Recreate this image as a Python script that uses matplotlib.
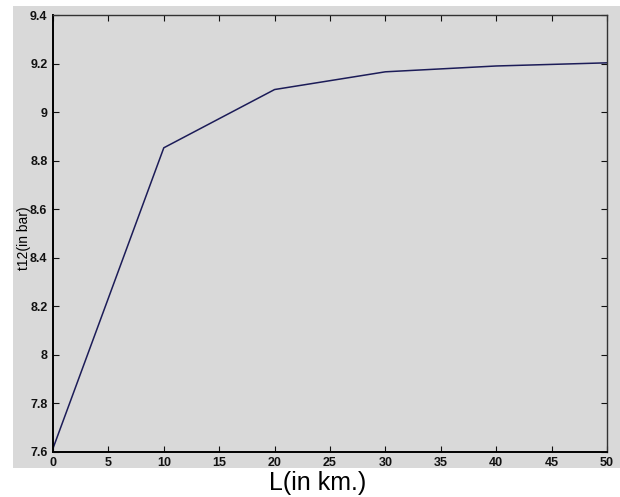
import matplotlib.pyplot as plt
from matplotlib.patches import Rectangle

# distance along the line and the resulting t12 value
L_km = [0, 10, 20, 30, 40, 50]
t12_bar = [7.615, 8.853, 9.093, 9.166, 9.19, 9.203]

x_ticks = [0, 5, 10, 15, 20, 25, 30, 35, 40, 45, 50]
y_ticks = [7.6, 7.8, 8, 8.2, 8.4, 8.6, 8.8, 9, 9.2, 9.4]
y_tick_labels = ["7.6", "7.8", "8", "8.2", "8.4", "8.6", "8.8", "9", "9.2", "9.4"]

plt.rcParams["font.family"] = ["Liberation Sans", "DejaVu Sans"]

fig = plt.figure(figsize=(6.2, 4.97), dpi=100)
fig.patch.set_facecolor("white")
# grey panel behind the axes, like a MATLAB figure window
fig.patches.append(
    Rectangle((13 / 620, 29 / 497), 607 / 620, 462 / 497,
              transform=fig.transFigure, facecolor="#d9d9d9",
              edgecolor="none", zorder=-10)
)

ax = fig.add_axes([53 / 620, 45 / 497, 554 / 620, 437 / 497])
ax.set_zorder(5)
ax.set_facecolor("#d9d9d9")
ax.plot(L_km, t12_bar, color="#1c1c58", linewidth=1.1)

ax.set_xlim(0, 50)
ax.set_ylim(7.6, 9.4)
ax.set_xticks(x_ticks)
ax.set_yticks(y_ticks)
ax.set_yticklabels(y_tick_labels)
ax.tick_params(direction="in", length=4, width=0.8, top=True, right=True,
               labelsize=9, colors="#111111")
ax.tick_params(axis="x", pad=3.5)
ax.tick_params(axis="y", pad=4)
for lbl in ax.get_xticklabels() + ax.get_yticklabels():
    lbl.set_fontweight("bold")
for side in ["left", "bottom"]:
    ax.spines[side].set_linewidth(1.4)
for side in ["top", "right"]:
    ax.spines[side].set_linewidth(1.0)
    ax.spines[side].set_color("#333333")

ax.set_ylabel("t12(in bar)", fontsize=10)
ax.yaxis.set_label_coords(-0.04, 0.49)
fig.text(318 / 620, 7 / 497, "L(in km.)", ha="center", va="baseline",
         fontsize=18)

fig.savefig("out.png", dpi=100, facecolor=fig.get_facecolor())
